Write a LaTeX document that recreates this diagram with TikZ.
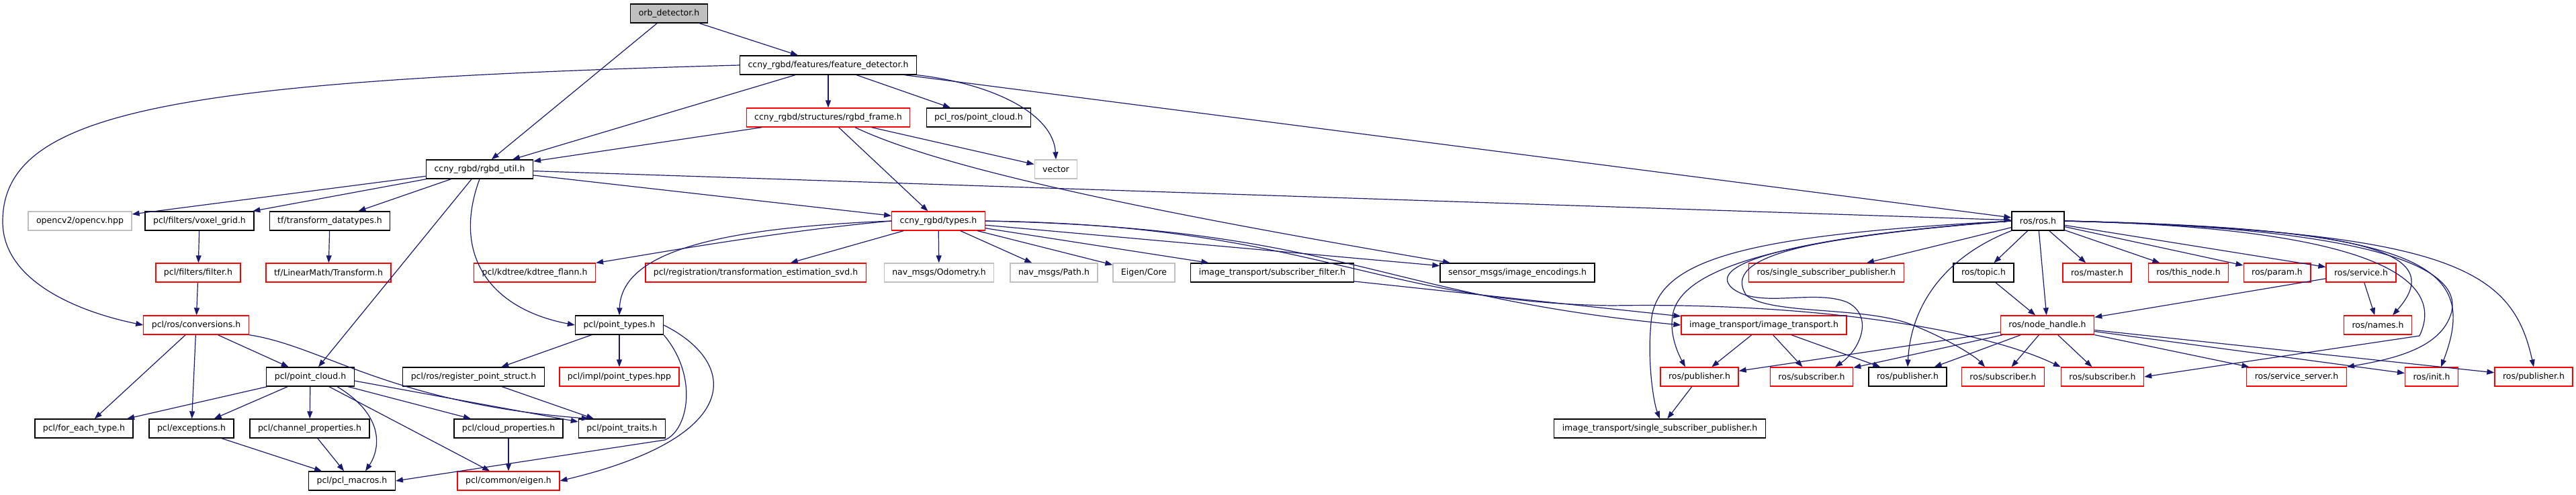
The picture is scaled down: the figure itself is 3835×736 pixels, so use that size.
\documentclass[tikz,border=0pt]{standalone}
\usepackage{fontspec}
\setmainfont{DejaVu Sans}
\usetikzlibrary{arrows.meta}

\definecolor{edgeblue}{HTML}{191970}
\definecolor{truncred}{HTML}{FF0000}
\definecolor{sysgrey}{HTML}{BFBFBF}

\begin{document}
\begin{tikzpicture}[x=1pt, y=-1pt,
  hdr/.style={draw=black, line width=1.3pt, fill=white, inner xsep=12pt, inner ysep=0pt,
              minimum height=28pt, font=\fontsize{12.5}{15}\selectfont},
  hdrred/.style={hdr, draw=truncred},
  hdrgrey/.style={hdr, draw=sysgrey},
  hdrroot/.style={hdr, fill=sysgrey},
  dep/.style={draw=edgeblue, line width=1.2pt, -{Triangle[length=11pt,width=8pt]}}]

  % ════ row 0-3 ════
  \node[hdrroot] (orb) at (996,20) {orb\_detector.h};
  \node[hdr] (feat) at (1233,97) {ccny\_rgbd/features/feature\_detector.h};
  \node[hdrred] (frame) at (1233,175) {ccny\_rgbd/structures/rgbd\_frame.h};
  \node[hdr] (pclros) at (1457,175) {pcl\_ros/point\_cloud.h};
  \node[hdr] (util) at (714,252) {ccny\_rgbd/rgbd\_util.h};
  \node[hdrgrey] (vector) at (1572,252) {vector};

  % ════ row 4 ════
  \node[hdrgrey] (opencv) at (119,329) {opencv2/opencv.hpp};
  \node[hdr] (voxel) at (297,329) {pcl/filters/voxel\_grid.h};
  \node[hdr] (tfdt) at (491,329) {tf/transform\_datatypes.h};
  \node[hdrred] (types) at (1397,329) {ccny\_rgbd/types.h};
  \node[hdr] (rosros) at (3034,329) {ros/ros.h};

  % ════ row 5 ════
  \node[hdrred] (filter) at (295,406) {pcl/filters/filter.h};
  \node[hdrred] (tftrans) at (489,406) {tf/LinearMath/Transform.h};
  \node[hdrred] (kdtree) at (796,406) {pcl/kdtree/kdtree\_flann.h};
  \node[hdrred] (svd) at (1125,406) {pcl/registration/transformation\_estimation\_svd.h};
  \node[hdrgrey] (odom) at (1398,406) {nav\_msgs/Odometry.h};
  \node[hdrgrey] (path) at (1569,406) {nav\_msgs/Path.h};
  \node[hdrgrey] (eigcore) at (1703,406) {Eigen/Core};
  \node[hdr] (subfilt) at (1894,406) {image\_transport/subscriber\_filter.h};
  \node[hdr] (imgenc) at (2259,406) {sensor\_msgs/image\_encodings.h};
  \node[hdrred] (ssp) at (2719,406) {ros/single\_subscriber\_publisher.h};
  \node[hdr] (topic) at (2953,406) {ros/topic.h};
  \node[hdrred] (master) at (3122,406) {ros/master.h};
  \node[hdrred] (thisnode) at (3258,406) {ros/this\_node.h};
  \node[hdrred] (param) at (3390,406) {ros/param.h};
  \node[hdrred] (service) at (3515,406) {ros/service.h};

  % ════ row 6 ════
  \node[hdrred] (conv) at (292,484) {pcl/ros/conversions.h};
  \node[hdr] (ptypes) at (922,484) {pcl/point\_types.h};
  \node[hdrred] (imgtrans) at (2626,484) {image\_transport/image\_transport.h};
  \node[hdrred] (nh) at (3048,484) {ros/node\_handle.h};
  \node[hdrred] (names) at (3540,484) {ros/names.h};

  % ════ row 7 ════
  \node[hdr] (ptcloud) at (462,561) {pcl/point\_cloud.h};
  \node[hdr] (regpt) at (705,561) {pcl/ros/register\_point\_struct.h};
  \node[hdrred] (impl) at (922,561) {pcl/impl/point\_types.hpp};
  \node[hdrred] (pubA) at (2530,561) {ros/publisher.h};
  \node[hdrred] (subA) at (2697,561) {ros/subscriber.h};
  \node[hdr] (pubB) at (2840,561) {ros/publisher.h};
  \node[hdrred] (subB) at (2982,561) {ros/subscriber.h};
  \node[hdrred] (subC) at (3130,561) {ros/subscriber.h};
  \node[hdrred] (srvsrv) at (3419,561) {ros/service\_server.h};
  \node[hdrred] (init) at (3620,561) {ros/init.h};
  \node[hdrred] (pubC) at (3772,561) {ros/publisher.h};

  % ════ row 8-9 ════
  \node[hdr] (foreach) at (125,638) {pcl/for\_each\_type.h};
  \node[hdr] (except) at (285,638) {pcl/exceptions.h};
  \node[hdr] (chanprop) at (461,638) {pcl/channel\_properties.h};
  \node[hdr] (cloudprop) at (757,638) {pcl/cloud\_properties.h};
  \node[hdr] (traits) at (926,638) {pcl/point\_traits.h};
  \node[hdr] (itssp) at (2471,638) {image\_transport/single\_subscriber\_publisher.h};
  \node[hdr] (macros) at (524,716) {pcl/pcl\_macros.h};
  \node[hdrred] (eigen) at (757,716) {pcl/common/eigen.h};

  % ════ orb_detector.h / feature_detector.h ════
  \draw[dep] (orb) -- (feat);
  \draw[dep] (orb) -- (util);
  \draw[dep] (feat.west) .. controls (260,120) and (4,165) .. (4,330) .. controls (4,420) and (120,465) .. (conv.west);
  \draw[dep] (feat) -- (util);
  \draw[dep] (feat) -- (frame);
  \draw[dep] (feat) -- (pclros);
  \draw[dep] (feat.south east) .. controls (1480,125) and (1568,170) .. (vector.north);
  \draw[dep] (feat) -- (rosros);

  % ════ rgbd_frame.h ════
  \draw[dep] (frame) -- (util);
  \draw[dep] (frame) -- (types);
  \draw[dep] (frame) -- (vector);
  \draw[dep] ([xshift=40pt]frame.south) .. controls (1420,260) and (1800,330) .. ([xshift=-100pt]imgenc.north);

  % ════ rgbd_util.h ════
  \draw[dep] (util) -- (opencv);
  \draw[dep] (util) -- (voxel);
  \draw[dep] (util) -- (tfdt);
  \draw[dep] (util) -- (types);
  \draw[dep] (util) -- (rosros);
  \draw[dep] (util) -- (ptcloud);
  \draw[dep] (util.south) .. controls (672,380) and (730,460) .. (ptypes.west);
  \draw[dep] (voxel) -- (filter);
  \draw[dep] (tfdt) -- (tftrans);
  \draw[dep] (filter) -- (conv);

  % ════ types.h ════
  \draw[dep] (types.west) .. controls (1150,345) and (960,380) .. (kdtree.north east);
  \draw[dep] (types.west) .. controls (1050,340) and (925,380) .. (ptypes.north);
  \draw[dep] (types) -- (svd);
  \draw[dep] (types) -- (odom);
  \draw[dep] (types) -- (path);
  \draw[dep] (types) -- (eigcore);
  \draw[dep] (types) -- (subfilt);
  \draw[dep] (types) -- (imgenc);
  \draw[dep] (types.east) .. controls (2000,340) and (2050,440) .. (imgtrans.west);
  \draw[dep] (types.east) .. controls (1950,335) and (2050,450) .. (2400,455) .. controls (2700,450) and (2950,490) .. (subC.north west);
  \draw[dep] (subfilt) -- (imgtrans);

  % ════ pcl ════
  \draw[dep] (conv) -- (foreach);
  \draw[dep] (conv) -- (except);
  \draw[dep] (conv) -- (ptcloud);
  \draw[dep] (conv.south east) .. controls (480,515) and (580,600) .. ([xshift=16pt]traits.north west);
  \draw[dep] (ptypes) -- (regpt);
  \draw[dep] (ptypes) -- (impl);
  \draw[dep] (ptypes.south east) .. controls (1040,560) and (1025,640) .. (990,655) -- (macros.east);
  \draw[dep] (ptypes.east) .. controls (1100,540) and (1110,650) .. (eigen.east);
  \draw[dep] (regpt) -- (traits);
  \draw[dep] (ptcloud) -- (foreach);
  \draw[dep] (ptcloud) -- (except);
  \draw[dep] (ptcloud) -- (chanprop);
  \draw[dep] (ptcloud) -- (cloudprop);
  \draw[dep] ([yshift=-6pt]ptcloud.east) -- ([yshift=10pt]traits.west);
  \draw[dep] ([xshift=40pt]ptcloud.south) .. controls (575,620) and (565,670) .. ([xshift=20pt]macros.north);
  \draw[dep] (ptcloud) -- (eigen);
  \draw[dep] (except) -- (macros);
  \draw[dep] (chanprop) -- (macros);
  \draw[dep] (cloudprop) -- (eigen);

  % ════ ros/ros.h ════
  \draw[dep] (rosros) -- (ssp);
  \draw[dep] (rosros) -- (topic);
  \draw[dep] (rosros) -- (nh);
  \draw[dep] (rosros) -- (master);
  \draw[dep] (rosros) -- (thisnode);
  \draw[dep] (rosros) -- (param);
  \draw[dep] (rosros) -- (service);
  \draw[dep] (rosros.east) .. controls (3500,340) and (3650,370) .. ([xshift=22pt]names.north);
  \draw[dep] (rosros.east) .. controls (3550,340) and (3640,420) .. (3602,500) -- (subC.east);
  \draw[dep] (rosros.east) .. controls (3580,340) and (3670,410) .. (3648,470) .. controls (3630,520) and (3560,535) .. (srvsrv.north east);
  \draw[dep] (rosros.east) .. controls (3620,340) and (3690,400) .. ([xshift=14pt]init.north);
  \draw[dep] (rosros.east) .. controls (3650,345) and (3740,400) .. (pubC.north);
  \draw[dep] (rosros.south west) .. controls (2900,380) and (2845,450) .. (pubB.north);
  \draw[dep] (rosros.west) .. controls (2700,350) and (2530,390) .. (2580,430) .. controls (2620,460) and (2700,430) .. (2750,450) .. controls (2790,470) and (2770,520) .. ([xshift=35pt]subA.north);
  \draw[dep] (rosros.west) .. controls (2700,352) and (2560,380) .. (2600,440) .. controls (2640,470) and (2780,455) .. (2850,485) .. controls (2900,505) and (2940,530) .. ([xshift=-27pt]subB.north);
  \draw[dep] (rosros.west) .. controls (2650,355) and (2500,400) .. (2490,470) .. controls (2485,500) and (2500,530) .. ([xshift=-21pt]pubA.north);
  \draw[dep] (rosros.west) .. controls (2600,350) and (2465,385) .. (2458,480) .. controls (2452,540) and (2462,600) .. (itssp.north);

  % ════ node_handle.h and the rest ════
  \draw[dep] (nh) -- (pubA);
  \draw[dep] (nh) -- (subA);
  \draw[dep] (nh) -- (pubB);
  \draw[dep] (nh) -- (subB);
  \draw[dep] (nh) -- (subC);
  \draw[dep] (nh) -- (srvsrv);
  \draw[dep] (nh) -- (init);
  \draw[dep] (nh) -- (pubC);
  \draw[dep] (topic) -- (nh);
  \draw[dep] (service) -- (nh);
  \draw[dep] (service) -- (names);
  \draw[dep] (imgtrans) -- (pubA);
  \draw[dep] (imgtrans) -- (subA);
  \draw[dep] (imgtrans) -- (pubB);
  \draw[dep] (pubA) -- (itssp);

  \path[use as bounding box] (0,0) rectangle (3835,736);
\end{tikzpicture}
\end{document}
